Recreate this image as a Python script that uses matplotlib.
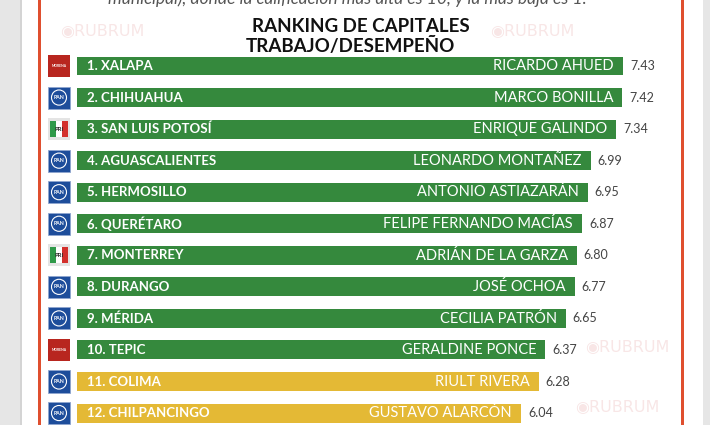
import matplotlib.pyplot as plt
from matplotlib.patches import Rectangle, Ellipse
from matplotlib import transforms

plt.rcParams['font.family'] = ['Lato', 'DejaVu Sans']

# datos
ciudades = ['1. XALAPA', '2. CHIHUAHUA', '3. SAN LUIS POTOSÍ', '4. AGUASCALIENTES',
            '5. HERMOSILLO', '6. QUERÉTARO', '7. MONTERREY', '8. DURANGO',
            '9. MÉRIDA', '10. TEPIC', '11. COLIMA', '12. CHILPANCINGO']
alcaldes = ['RICARDO AHUED', 'MARCO BONILLA', 'ENRIQUE GALINDO', 'LEONARDO MONTAÑEZ',
            'ANTONIO ASTIAZARÁN', 'FELIPE FERNANDO MACÍAS', 'ADRIÁN DE LA GARZA',
            'JOSÉ OCHOA', 'CECILIA PATRÓN', 'GERALDINE PONCE', 'RIULT RIVERA',
            'GUSTAVO ALARCÓN']
calificaciones = [7.43, 7.42, 7.34, 6.99, 6.95, 6.87, 6.80, 6.77, 6.65, 6.37, 6.28, 6.04]
partidos = ['MORENA', 'PAN', 'PRI', 'PAN', 'PAN', 'PAN', 'PRI', 'PAN', 'PAN',
            'MORENA', 'PAN', 'PAN']
semaforo = ['verde'] * 10 + ['amarillo'] * 2

colores = {'verde': '#35893d', 'amarillo': '#e4b935'}

W, H = 710, 425
def fx(px):
    return px / W
def fy(py):
    return 1 - py / H

fig = plt.figure(figsize=(W / 100, H / 100), dpi=100)
fig.patch.set_facecolor('#e6e6e6')

# panel blanco y marco rojo
fig.patches.append(Rectangle((fx(21), 0), fx(703) - fx(21), 1, transform=fig.transFigure,
                             fc='white', ec='none', zorder=0))
fig.patches.append(Rectangle((fx(20), 0), 1.5 / W, 1, transform=fig.transFigure,
                             fc='#d4d4d4', ec='none', zorder=0))
for xr in (38, 681):
    fig.patches.append(Rectangle((fx(xr), 0), 2.5 / W, 1, transform=fig.transFigure,
                                 fc='#df4f2f', ec='none', zorder=1))

# marca de agua, solo en huecos libres
for xx, yy in ((60, 32), (490, 32), (585, 348), (575, 408)):
    fig.text(fx(xx), fy(yy), '◉RUBRUM', fontsize=11.5, color='#f8e6e6',
             family=['DejaVu Sans'], va='center', ha='left', zorder=2)

# texto superior recortado
fig.text(fx(347), fy(4), 'municipal), donde la calificación más alta es 10, y la más baja es 1.',
         ha='center', va='baseline', fontsize=12.5, style='italic', color='#555555', zorder=3)

fig.text(fx(361), fy(26), 'RANKING DE CAPITALES', ha='center', va='center',
         fontsize=13.5, fontweight='bold', color='#111111', zorder=6)
fig.text(fx(350), fy(46), 'TRABAJO/DESEMPEÑO', ha='center', va='center',
         fontsize=13.5, fontweight='bold', color='#111111', zorder=6)

paso = 31.55
top = 66 - paso / 2
alto = paso * len(ciudades)
ax = fig.add_axes([fx(77), fy(top + alto), fx(690) - fx(77), alto / H])
ax.set_zorder(5)
ax.patch.set_alpha(0)
ax.axis('off')

y = list(range(len(ciudades)))
ax.barh(y, calificaciones, height=0.6, color=[colores[s] for s in semaforo])
ax.set_xlim(0, (690 - 77) / 73.5)
ax.set_ylim(len(ciudades) - 0.5, -0.5)

for i, (c, a, v) in enumerate(zip(ciudades, alcaldes, calificaciones)):
    ax.annotate(c, (0, i), xytext=(10, 0), textcoords='offset pixels', ha='left',
                va='center', fontsize=9.5, fontweight='bold', color='white')
    ax.annotate(a, (v, i), xytext=(-9, 0), textcoords='offset pixels', ha='right',
                va='center', fontsize=10.5, color='white')
    ax.annotate(f'{v:.2f}', (v, i), xytext=(7, 0), textcoords='offset pixels', ha='left',
                va='center', fontsize=9, color='#444444')

# logos de partido
blend = transforms.blended_transform_factory(fig.transFigure, ax.transData)
lw_, lh = 22 / W, 0.7
for i, p in enumerate(partidos):
    x0 = fx(48)
    if p == 'PAN':
        ax.add_patch(Rectangle((x0, i - lh / 2), lw_, lh, transform=blend, fc='#1d4d9b',
                               ec='#8fa6cf', lw=0.6, clip_on=False))
        ax.add_patch(Ellipse((fx(59), i), 15 / W, 0.48, transform=blend, fc='none',
                             ec='white', lw=0.8, clip_on=False))
        ax.text(fx(59), i, 'PAN', transform=blend, ha='center', va='center',
                fontsize=3.8, fontweight='bold', color='white', clip_on=False)
    elif p == 'PRI':
        ax.add_patch(Rectangle((x0, i - lh / 2), lw_, lh, transform=blend, fc='#e4e4e4',
                               ec='none', clip_on=False))
        for xs, col in ((50, '#2f9a4a'), (56, 'white'), (62, '#d3302c')):
            ax.add_patch(Rectangle((fx(xs), i - 0.25), 6 / W, 0.5, transform=blend,
                                   fc=col, ec='none', clip_on=False))
        ax.text(fx(59), i, 'PRI', transform=blend, ha='center', va='center',
                fontsize=4.2, fontweight='bold', color='#222222', clip_on=False)
    else:
        ax.add_patch(Rectangle((x0, i - lh / 2), lw_, lh, transform=blend, fc='#b8261f',
                               ec='none', clip_on=False))
        ax.text(fx(59), i, 'MORENA', transform=blend, ha='center', va='center',
                fontsize=2.4, fontweight='bold', color='white', clip_on=False)

fig.savefig('out.png', dpi=100)
